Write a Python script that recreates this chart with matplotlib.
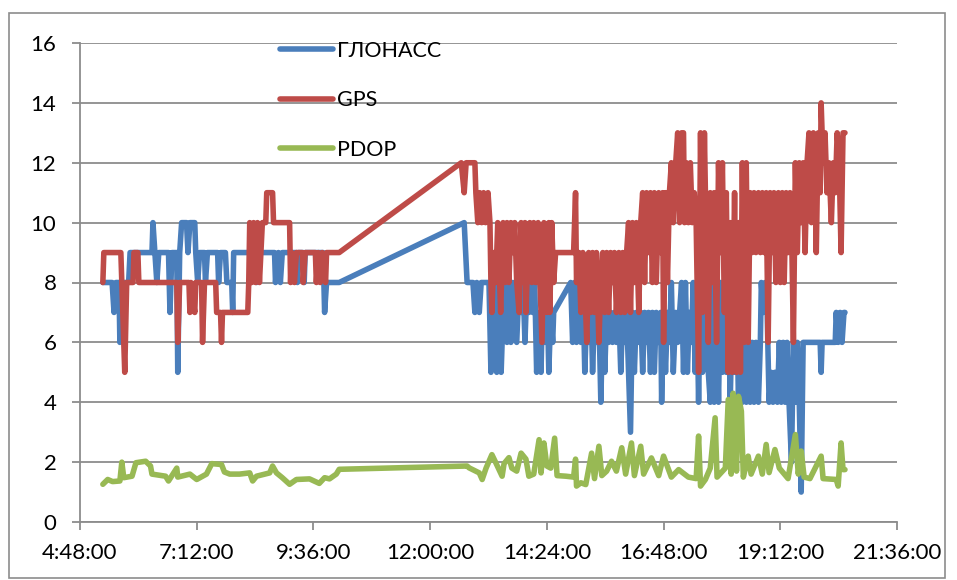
import matplotlib
matplotlib.use('Agg')
import matplotlib.pyplot as plt
from matplotlib.patches import Rectangle
from matplotlib.ticker import FuncFormatter

# time in hours of day, value
glonass = [
    (5.27, 8), (5.46, 8), (5.50, 7), (5.54, 8), (5.60, 8), (5.62, 6), (5.66, 8), (5.80, 8),
    (5.83, 9), (6.28, 9), (6.30, 10), (6.34, 9), (6.38, 8), (6.42, 9), (6.62, 9), (6.65, 7),
    (6.69, 9), (6.79, 9), (6.81, 5), (6.85, 9), (6.89, 10), (6.99, 10), (7.02, 9), (7.06, 10),
    (7.16, 10), (7.18, 9), (7.22, 8), (7.26, 9), (7.36, 9), (7.38, 8), (7.42, 9), (7.63, 9),
    (7.65, 8), (7.69, 9), (7.79, 9), (7.82, 8), (7.92, 8), (7.94, 7), (7.96, 9), (8.29, 9),
    (8.31, 8), (8.33, 9), (8.41, 9), (8.43, 8), (8.45, 9), (8.80, 9), (8.82, 8), (8.88, 9),
    (8.92, 8), (8.96, 9), (9.25, 9), (9.27, 8), (9.29, 9), (9.39, 9), (9.41, 8), (9.43, 9),
    (9.80, 9), (9.83, 7), (9.87, 8), (10.13, 8),
    (12.70, 10), (12.76, 8), (12.88, 8), (12.92, 7), (12.96, 8), (13.01, 7), (13.05, 8), (13.21, 8),
    (13.25, 5), (13.29, 8), (13.33, 6), (13.37, 5), (13.42, 8), (13.46, 5), (13.50, 7), (13.54, 8),
    (13.58, 6), (13.62, 8), (13.66, 6), (13.70, 8), (13.74, 7), (13.78, 6), (13.83, 8), (13.87, 7),
    (13.91, 8), (13.95, 6), (13.99, 8), (14.03, 7), (14.07, 8), (14.11, 7), (14.15, 8), (14.19, 5),
    (14.24, 7), (14.28, 5), (14.32, 8), (14.36, 6), (14.40, 8), (14.44, 5), (14.48, 7), (14.52, 6),
    (14.54, 7), (14.89, 8), (14.93, 6), (14.97, 8), (15.01, 6), (15.06, 8), (15.10, 6), (15.14, 8),
    (15.18, 5), (15.22, 7), (15.26, 6), (15.30, 8), (15.34, 5), (15.38, 7), (15.42, 6), (15.47, 7),
    (15.51, 4), (15.55, 7), (15.59, 5), (15.63, 7), (15.67, 6), (15.71, 7), (15.75, 6), (15.79, 7),
    (15.83, 6), (15.88, 7), (15.92, 5), (15.96, 7), (16.00, 6), (16.04, 7), (16.08, 5), (16.12, 3),
    (16.16, 7), (16.20, 5), (16.24, 7), (16.29, 6), (16.33, 7), (16.37, 5), (16.41, 7), (16.45, 6),
    (16.49, 7), (16.53, 5), (16.57, 7), (16.61, 5), (16.65, 7), (16.70, 6), (16.74, 7), (16.76, 4),
    (16.80, 7), (16.84, 5), (16.88, 7), (16.92, 6), (16.96, 8), (17.00, 5), (17.05, 7), (17.09, 6),
    (17.13, 7), (17.17, 8), (17.21, 5), (17.25, 8), (17.29, 5), (17.33, 7), (17.37, 6), (17.41, 8),
    (17.45, 5), (17.49, 7), (17.52, 4), (17.56, 8), (17.60, 5), (17.64, 8), (17.68, 6), (17.72, 5),
    (17.76, 4), (17.80, 8), (17.84, 4), (17.89, 7), (17.93, 4), (17.97, 8), (18.01, 5), (18.05, 8),
    (18.09, 5), (18.13, 8), (18.17, 4), (18.21, 7), (18.26, 5), (18.30, 8), (18.34, 4), (18.38, 7),
    (18.42, 4), (18.46, 6), (18.50, 4), (18.54, 6), (18.58, 4), (18.62, 6), (18.66, 4), (18.70, 6),
    (18.75, 4), (18.79, 6), (18.81, 8), (18.85, 7), (18.89, 8), (18.93, 7), (18.97, 4), (19.01, 5),
    (19.05, 4), (19.09, 5), (19.14, 4), (19.18, 6), (19.22, 4), (19.26, 6), (19.30, 4), (19.34, 6),
    (19.38, 4), (19.43, 2), (19.47, 6), (19.51, 4), (19.55, 6), (19.59, 4), (19.63, 1), (19.67, 6),
    (19.71, 6), (20.02, 6), (20.04, 5), (20.06, 6), (20.33, 6), (20.35, 7), (20.39, 6), (20.43, 7),
    (20.47, 6), (20.51, 7), (20.53, 7),
]

gps = [
    (5.27, 8), (5.29, 9), (5.64, 9), (5.66, 8), (5.72, 5), (5.76, 8), (5.89, 8), (5.91, 9),
    (5.99, 9), (6.01, 8), (6.79, 8), (6.81, 6), (6.85, 8), (7.04, 8), (7.06, 7), (7.08, 8),
    (7.16, 7), (7.18, 8), (7.30, 8), (7.32, 6), (7.36, 8), (7.59, 8), (7.61, 7), (7.69, 7),
    (7.71, 6), (7.73, 7), (8.25, 7), (8.27, 8), (8.29, 10), (8.33, 8), (8.37, 10), (8.41, 8),
    (8.45, 10), (8.49, 8), (8.55, 10), (8.62, 10), (8.64, 11), (8.76, 11), (8.78, 10), (9.11, 10),
    (9.13, 8), (9.15, 9), (9.21, 8), (9.25, 9), (9.37, 9), (9.39, 8), (9.43, 9), (9.64, 9),
    (9.66, 8), (9.70, 9), (9.74, 8), (9.78, 9), (9.85, 8), (9.87, 9), (10.13, 9),
    (12.64, 12), (12.70, 11), (12.74, 12), (12.92, 12), (12.94, 11), (12.98, 10), (13.02, 11), (13.06, 10),
    (13.10, 11), (13.14, 10), (13.19, 11), (13.23, 10), (13.25, 8), (13.27, 7), (13.31, 9), (13.35, 8),
    (13.39, 10), (13.43, 8), (13.45, 7), (13.50, 10), (13.54, 8), (13.58, 10), (13.62, 8), (13.66, 10),
    (13.70, 9), (13.74, 10), (13.78, 8), (13.83, 7), (13.87, 10), (13.91, 8), (13.95, 10), (13.97, 7),
    (14.01, 9), (14.05, 10), (14.09, 8), (14.13, 10), (14.17, 8), (14.22, 10), (14.26, 8), (14.30, 6),
    (14.34, 10), (14.38, 8), (14.40, 7), (14.44, 10), (14.46, 7), (14.50, 10), (14.54, 8), (14.58, 9),
    (14.95, 9), (14.99, 11), (15.01, 8), (15.06, 9), (15.10, 7), (15.14, 9), (15.18, 8), (15.22, 6),
    (15.26, 9), (15.30, 7), (15.34, 9), (15.38, 7), (15.42, 9), (15.47, 6), (15.51, 8), (15.55, 9),
    (15.59, 7), (15.63, 9), (15.67, 7), (15.71, 9), (15.75, 8), (15.79, 9), (15.83, 7), (15.88, 9),
    (15.92, 7), (15.96, 9), (16.00, 7), (16.04, 9), (16.08, 10), (16.12, 7), (16.16, 10), (16.20, 8),
    (16.24, 10), (16.29, 7), (16.33, 10), (16.37, 11), (16.41, 8), (16.45, 11), (16.49, 9), (16.53, 11),
    (16.57, 8), (16.61, 11), (16.65, 8), (16.70, 11), (16.74, 9), (16.78, 11), (16.80, 6), (16.84, 11),
    (16.88, 8), (16.92, 11), (16.96, 12), (17.00, 10), (17.05, 12), (17.09, 13), (17.13, 10), (17.17, 13),
    (17.21, 13), (17.23, 10), (17.27, 12), (17.31, 10), (17.35, 12), (17.39, 10), (17.43, 11), (17.47, 10),
    (17.52, 5), (17.56, 13), (17.60, 7), (17.64, 13), (17.68, 9), (17.72, 6), (17.76, 11), (17.80, 8),
    (17.84, 11), (17.89, 6), (17.93, 12), (17.97, 9), (18.01, 12), (18.05, 7), (18.09, 11), (18.13, 5),
    (18.17, 10), (18.21, 5), (18.26, 11), (18.30, 5), (18.34, 10), (18.38, 5), (18.42, 12), (18.46, 6),
    (18.50, 12), (18.54, 6), (18.58, 11), (18.62, 9), (18.66, 11), (18.70, 9), (18.75, 11), (18.79, 9),
    (18.83, 11), (18.87, 9), (18.91, 11), (18.95, 6), (18.99, 11), (19.03, 9), (19.07, 11), (19.11, 8),
    (19.16, 11), (19.20, 8), (19.24, 11), (19.28, 8), (19.32, 11), (19.36, 9), (19.40, 11), (19.44, 9),
    (19.47, 6), (19.51, 12), (19.55, 9), (19.59, 12), (19.63, 10), (19.67, 12), (19.71, 9), (19.75, 12),
    (19.79, 13), (19.84, 10), (19.88, 13), (19.92, 11), (19.94, 9), (19.98, 13), (20.02, 11), (20.04, 14),
    (20.08, 12), (20.12, 13), (20.16, 11), (20.20, 12), (20.25, 10), (20.29, 12), (20.33, 11), (20.37, 13),
    (20.41, 12), (20.45, 9), (20.49, 13), (20.53, 13),
]

pdop = [
    (5.27, 1.26), (5.37, 1.42), (5.47, 1.35), (5.62, 1.37), (5.66, 2.0), (5.70, 1.48), (5.87, 1.53),
    (5.95, 1.98), (6.15, 2.03), (6.25, 1.87), (6.28, 1.6), (6.56, 1.53), (6.62, 1.37), (6.79, 1.8),
    (6.81, 1.5), (7.06, 1.6), (7.20, 1.42), (7.40, 1.6), (7.51, 1.95), (7.71, 1.92), (7.77, 1.67),
    (7.88, 1.6), (8.08, 1.6), (8.29, 1.64), (8.35, 1.37), (8.43, 1.53), (8.70, 1.64), (8.76, 1.87),
    (8.84, 1.64), (8.96, 1.48), (9.11, 1.26), (9.25, 1.42), (9.52, 1.44), (9.72, 1.29), (9.83, 1.48),
    (9.93, 1.44), (10.07, 1.6), (10.13, 1.76),
    (12.76, 1.87), (12.80, 1.81), (13.01, 1.64), (13.07, 1.42), (13.15, 1.8), (13.27, 2.25), (13.35, 1.98),
    (13.48, 1.53), (13.52, 1.95), (13.62, 2.15), (13.68, 1.8), (13.78, 1.7), (13.87, 2.3), (13.97, 2.1),
    (14.03, 1.53), (14.13, 1.6), (14.24, 2.75), (14.28, 1.64), (14.34, 2.64), (14.40, 1.87), (14.48, 1.8),
    (14.56, 2.8), (14.61, 1.55), (14.79, 1.53), (14.95, 1.5), (14.99, 2.1), (15.01, 1.2), (15.10, 1.31),
    (15.20, 1.25), (15.32, 2.3), (15.38, 1.45), (15.47, 2.53), (15.53, 1.55), (15.63, 1.7), (15.73, 2.03),
    (15.83, 1.7), (15.94, 2.48), (16.02, 1.6), (16.14, 2.64), (16.20, 1.55), (16.33, 2.53), (16.39, 1.6),
    (16.55, 2.14), (16.70, 1.55), (16.80, 2.2), (16.96, 1.5), (17.11, 1.75), (17.31, 1.5), (17.47, 1.45),
    (17.52, 2.87), (17.56, 1.2), (17.66, 1.42), (17.76, 1.8), (17.86, 3.48), (17.90, 1.5), (18.07, 1.8),
    (18.13, 4.09), (18.19, 1.6), (18.23, 4.3), (18.30, 1.7), (18.34, 4.2), (18.40, 3.7), (18.44, 1.5),
    (18.54, 2.2), (18.60, 1.6), (18.75, 2.2), (18.83, 1.6), (18.91, 2.59), (18.97, 1.65), (19.09, 2.42),
    (19.18, 1.8), (19.36, 1.45), (19.51, 2.92), (19.57, 1.6), (19.63, 2.37), (19.69, 1.5), (19.81, 1.45),
    (20.04, 2.2), (20.08, 1.45), (20.35, 1.42), (20.39, 1.2), (20.45, 2.64), (20.49, 1.75), (20.53, 1.75),
]

labels = ['ГЛОНАСС', 'GPS', 'PDOP']
colors = ['#4A7EBB', '#BE4B48', '#98B954']
x_ticks = [4.8, 7.2, 9.6, 12.0, 14.4, 16.8, 19.2, 21.6]
y_ticks = [0, 2, 4, 6, 8, 10, 12, 14, 16]

plt.rcParams['font.family'] = ['Lato', 'DejaVu Sans']

def hms(h, pos=None):
    total = int(round(h * 3600))
    return '%d:%02d:%02d' % (total // 3600, (total % 3600) // 60, total % 60)

fig = plt.figure(figsize=(9.57, 5.80), dpi=100)
ax = fig.add_axes([80 / 957, 1 - 522 / 580, 817 / 957, 479 / 580])

for series, name, col in zip([glonass, gps, pdop], labels, colors):
    t = [p[0] for p in series]
    v = [p[1] for p in series]
    ax.plot(t, v, color=col, lw=4, label=name,
            solid_joinstyle='round', solid_capstyle='round')

ax.set_xlim(4.8, 21.6)
ax.set_ylim(0, 16)
ax.set_xticks(x_ticks)
ax.set_yticks(y_ticks)
ax.xaxis.set_major_formatter(FuncFormatter(hms))
ax.grid(axis='y', color='#8C8C8C', lw=1.3)
ax.set_axisbelow(True)
for s in ['top', 'right']:
    ax.spines[s].set_visible(False)
for s in ['left', 'bottom']:
    ax.spines[s].set_color('#8C8C8C')
    ax.spines[s].set_linewidth(1.3)
ax.tick_params(axis='both', direction='out', length=6, width=1.3, color='#8C8C8C',
               labelsize=16, labelcolor='black')
ax.tick_params(axis='y', pad=11)
ax.tick_params(axis='x', pad=9)

ax.legend(loc='upper left', bbox_to_anchor=(280 / 957, 1 - 41 / 580),
          bbox_transform=fig.transFigure, frameon=False, fontsize=15.5,
          handlelength=2.45, handletextpad=0.2, labelspacing=1.37,
          borderpad=0, borderaxespad=0)

fig.patches.append(Rectangle((9 / 957, 2 / 580), 936 / 957, 565 / 580,
                             transform=fig.transFigure, fill=False,
                             edgecolor='#8C8C8C', lw=1.2))

fig.savefig('out.png', dpi=100)
